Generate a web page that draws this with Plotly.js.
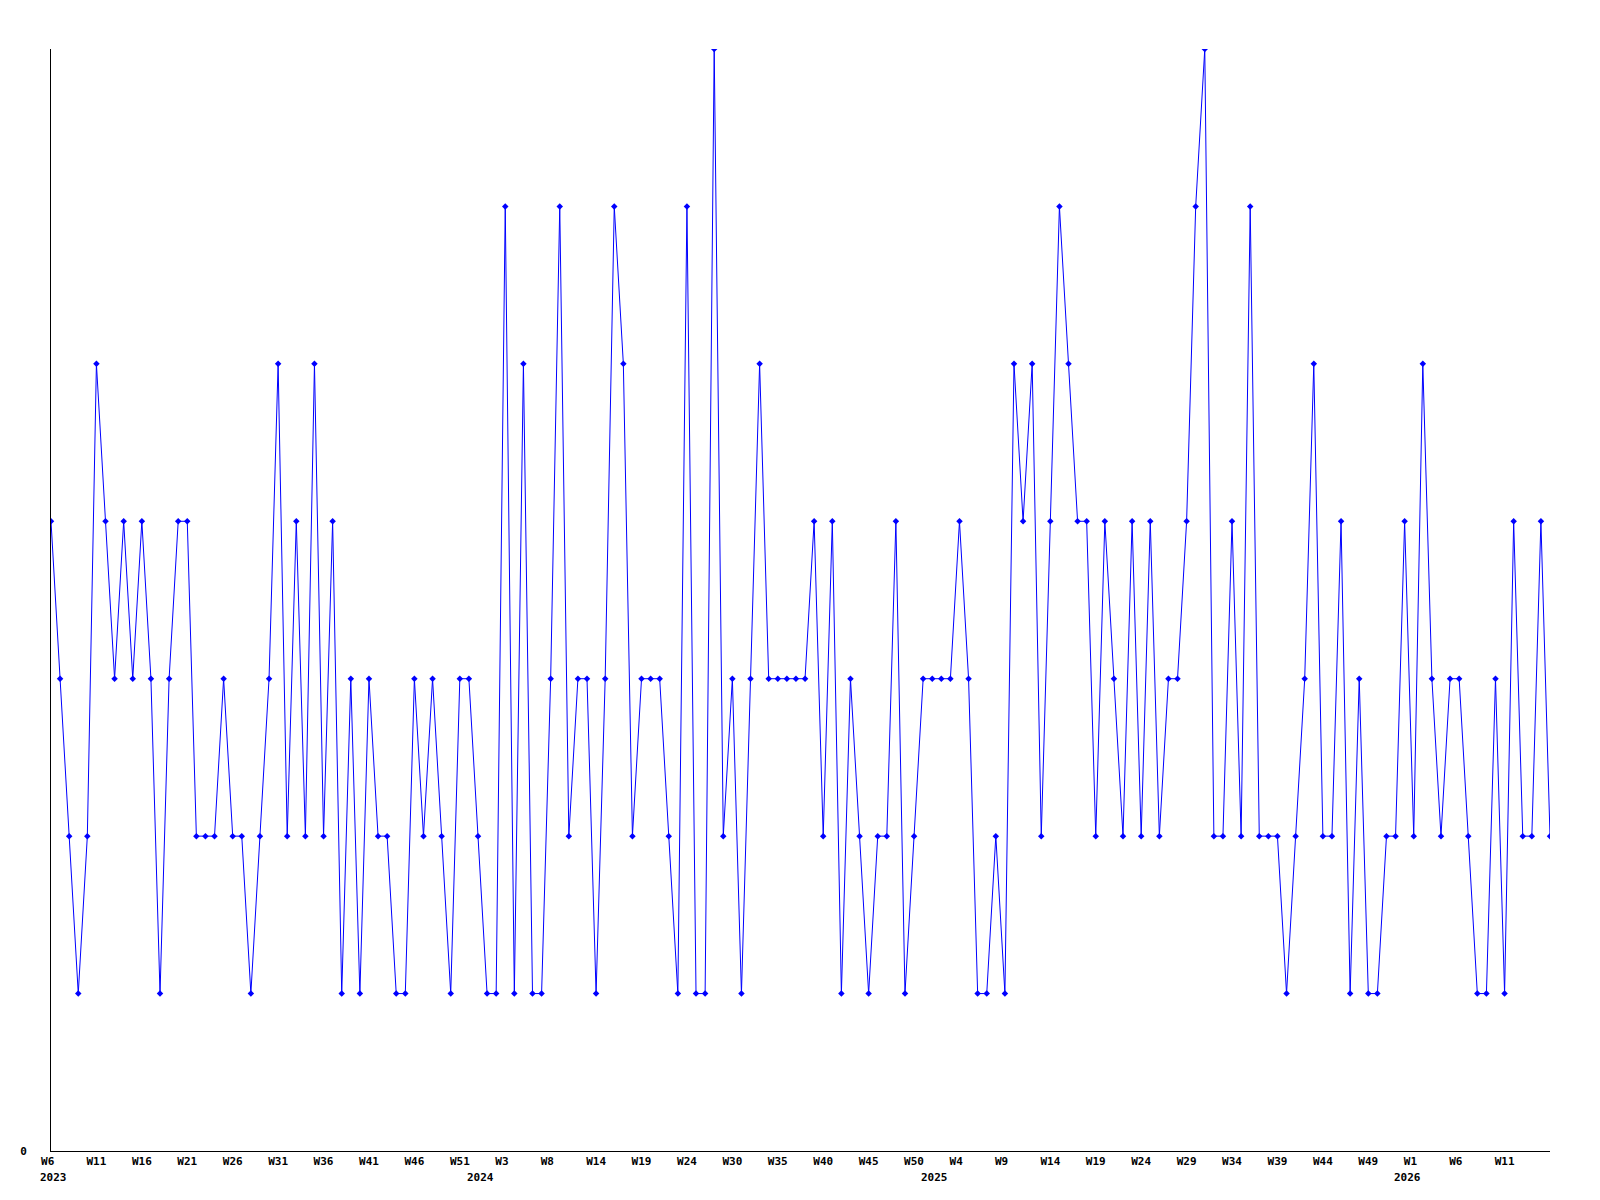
<!DOCTYPE html>
<html>
<head>
<meta charset="utf-8">
<script src="https://cdn.plot.ly/plotly-3.0.1.min.js"></script>
<style>
  html, body { margin: 0; padding: 0; background: #ffffff; }
  #chart { width: 1600px; height: 1200px; }
</style>
</head>
<body>
<div id="chart"></div>
<script>
// Weekly values, 2023 W6 onward (166 points)
const values2023 = [4,3,2,1,2,5,4,3,4,3,4,3,1,3,4,4,2,2,2,3,2,2,1,2,3,5,2,4,2,5,2,4,1,3,1,3,2,2,1,1,3,2,3,2,1];
const values2024 = [3,3,2,1,1,6,1,5,1,1,3,6,2,3,3,1,3,6,5,2,3,3,3,2,1,6,1,1,7,2,3,1,3,5,3,3,3,3,3,4,2,4,1,3];
const values2025 = [2,1,2,2,4,1,2,3,3,3,3,4,3,1,1,2,1,5,4,5,2,4,6,5,4,4,2,4,3,2,4,2,4,2,3,3,4,6,7,2,2,4,2,6];
const values2026 = [2,2,2,1,2,3,5,2,2,4,1,3,1,1,2,2,4,2,5,3,2,3,3,2,1,1,3,1,4,2,2,4,2];

// Tick labels (one every 5th point) and year labels
const weekTickLabels = ["W6","W11","W16","W21","W26","W31","W36","W41","W46","W51",
  "W3","W8","W14","W19","W24","W30","W35","W40","W45","W50",
  "W4","W9","W14","W19","W24","W29","W34","W39","W44","W49",
  "W1","W6","W11"];
const yearLabels = ["2023","2024","2025","2026"];

// ---- build ----
const yVals = [].concat(values2023, values2024, values2025, values2026);
const xIdx = yVals.map((_, i) => i);
const tickStep = 5;
const tickVals = weekTickLabels.map((_, i) => i * tickStep);
// labels are left-aligned in the original: pad short labels on the right
const tickText = weekTickLabels.map(t => t.length < 3 ? t + '\u00a0' : t);
const yearLabelAt = [0.3, 47.3, 97.2, 149.35];

const fontSpec = { family: 'DejaVu Sans Mono, Liberation Mono, monospace', size: 11, color: '#000000', weight: 'bold' };

const trace = {
  x: xIdx,
  y: yVals,
  type: 'scatter',
  mode: 'lines+markers',
  line: { color: '#0000ff', width: 1 },
  marker: { color: '#0000ff', symbol: 'diamond', size: 5, line: { width: 0 } },
  hoverinfo: 'skip',
  showlegend: false
};

const annotations = yearLabels.map((y, i) => ({
  x: yearLabelAt[i], y: 0, xref: 'x', yref: 'y',
  text: y, showarrow: false, xanchor: 'center', yanchor: 'middle',
  yshift: -26, font: fontSpec
}));

const layout = {
  width: 1600,
  height: 1200,
  paper_bgcolor: '#ffffff',
  plot_bgcolor: '#ffffff',
  margin: { l: 51, r: 50, t: 49, b: 49, pad: 0 },
  font: fontSpec,
  showlegend: false,
  xaxis: {
    range: [0, yVals.length - 1],
    showgrid: false, zeroline: false,
    showline: true, linecolor: '#000000', linewidth: 1,
    ticks: '', tickmode: 'array', tickvals: tickVals, ticktext: tickText,
    tickfont: fontSpec, tickangle: 0, ticklabelshift: -2.5,
    fixedrange: true
  },
  yaxis: {
    range: [0, 7],
    showgrid: false, zeroline: false,
    showline: true, linecolor: '#000000', linewidth: 1,
    ticks: '', tickmode: 'array', tickvals: [0], ticktext: ['0'],
    tickfont: fontSpec, ticklabelstandoff: 21,
    fixedrange: true
  },
  annotations: annotations
};

Plotly.newPlot('chart', [trace], layout, { staticPlot: true, displayModeBar: false });
</script>
</body>
</html>
